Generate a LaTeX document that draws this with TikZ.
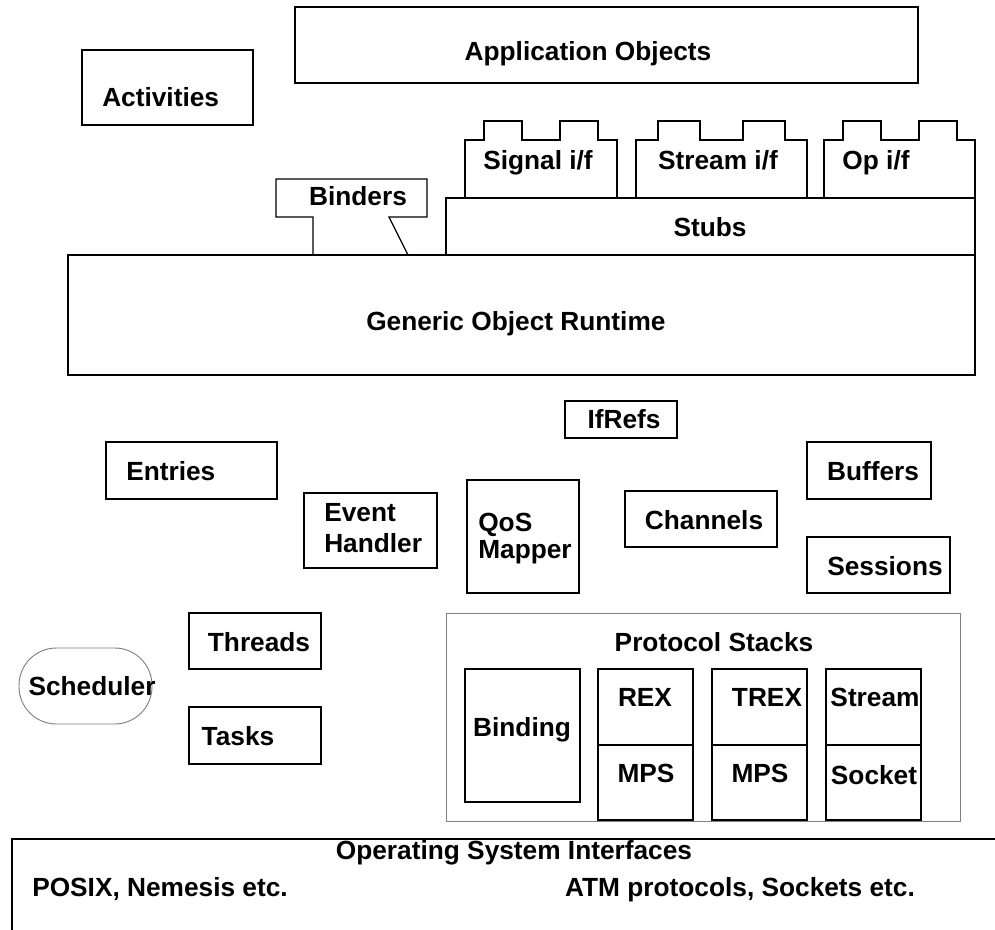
\documentclass[tikz,border=0pt]{standalone}
\usepackage{fontspec}
\setmainfont{Liberation Sans}
\tikzset{
  box/.style={draw=black, line width=0.9pt},
  softbox/.style={draw=black!50, line width=0.7pt},
  lbl/.style={font=\fontsize{19.7}{23}\selectfont\bfseries, inner sep=0pt,
              text height=14.1pt, text depth=0pt},
}
\begin{document}
\begin{tikzpicture}[x=0.75pt, y=-0.75pt]
  \path[use as bounding box, fill=white] (0,0) rectangle (995,930);

  % upper layer
  \draw[box] (295,7) rectangle (918,83);
  \node[lbl] (appobj) at (588,51) {Application Objects};

  \draw[box] (82,50) rectangle (253,125);
  \node[lbl, anchor=west] (activities) at (102,97) {Activities};

  % interfaces sitting on the stubs
  \draw[box] (465,198) -- (465,140) -- (484,140) -- (484,121) -- (522,121) -- (522,140)
             -- (560,140) -- (560,121) -- (598,121) -- (598,140) -- (617,140) -- (617,198);
  \node[lbl] (signalif) at (538,160) {Signal i/f};

  \draw[box] (636,198) -- (636,140) -- (658,140) -- (658,121) -- (700,121) -- (700,140)
             -- (743,140) -- (743,121) -- (785,121) -- (785,140) -- (807,140) -- (807,198);
  \node[lbl] (streamif) at (718,160) {Stream i/f};

  \draw[box] (824,198) -- (824,140) -- (843,140) -- (843,121) -- (881,121) -- (881,140)
             -- (919,140) -- (919,121) -- (957,121) -- (957,140) -- (975,140) -- (975,198);
  \node[lbl] (opif) at (876,160) {Op i/f};

  \draw[box] (446,198) rectangle (975,255);
  \node[lbl] (stubs) at (710,227) {Stubs};

  % binders tag
  \draw[box] (313,255) -- (313,217) -- (276,217) -- (276,179) -- (427,179)
             -- (427,217) -- (389,217) -- (408,255);
  \node[lbl] (binders) at (358,196) {Binders};

  % runtime
  \draw[box] (68,255) rectangle (975,375);
  \node[lbl, anchor=west] (gor) at (366,321) {Generic Object Runtime};

  % middle components
  \draw[box] (565,401) rectangle (677,438);
  \node[lbl] (ifrefs) at (624,419) {IfRefs};

  \draw[box] (106,442) rectangle (277,499);
  \node[lbl, anchor=west] (entries) at (126,471) {Entries};

  \draw[box] (304,493) rectangle (437,568);
  \node[lbl, anchor=west] (event) at (324,512) {Event};
  \node[lbl, anchor=west] (handler) at (324,543) {Handler};

  \draw[box] (467,480) rectangle (579,593);
  \node[lbl, anchor=west] (qos) at (478,522) {QoS};
  \node[lbl, anchor=west] (mapper) at (478,549) {Mapper};

  \draw[box] (625,491) rectangle (777,547);
  \node[lbl] (channels) at (704,520) {Channels};

  \draw[box] (807,442) rectangle (931,499);
  \node[lbl] (buffers) at (873,471) {Buffers};

  \draw[box] (807,537) rectangle (950,593);
  \node[lbl] (sessions) at (885,566) {Sessions};

  % scheduling
  \draw[box] (189,613) rectangle (321,669);
  \node[lbl] (threads) at (259,642) {Threads};

  \draw[box] (189,707) rectangle (321,764);
  \node[lbl] (tasks) at (238,736) {Tasks};

  \draw[softbox, rounded corners=28pt] (19,648) rectangle (152,724);
  \node[lbl] (scheduler) at (92,686) {Scheduler};

  % protocol stacks
  \draw[softbox] (446,613) rectangle (960,821);
  \node[lbl] (pstacks) at (714,642) {Protocol Stacks};

  \draw[box] (465,669) rectangle (580,802);
  \node[lbl] (binding) at (522,727) {Binding};

  \draw[box] (598,669) rectangle (693,820);
  \draw[box] (598,745) -- (693,745);
  \node[lbl] (rex) at (645,697) {REX};
  \node[lbl] (mpsa) at (646,773) {MPS};

  \draw[box] (712,669) rectangle (807,820);
  \draw[box] (712,745) -- (807,745);
  \node[lbl] (trex) at (767,697) {TREX};
  \node[lbl] (mpsb) at (760,773) {MPS};

  \draw[box] (826,669) rectangle (921,820);
  \draw[box] (826,745) -- (921,745);
  \node[lbl] (stream) at (875,697) {Stream};
  \node[lbl] (socket) at (874,775) {Socket};

  % operating system layer
  \draw[box] (12,930) -- (12,839) -- (995,839);
  \node[lbl] (osif) at (514,850) {Operating System Interfaces};
  \node[lbl, anchor=west] (posix) at (32,887) {POSIX, Nemesis etc.};
  \node[lbl] (atm) at (740,887) {ATM protocols, Sockets etc.};
\end{tikzpicture}
\end{document}
